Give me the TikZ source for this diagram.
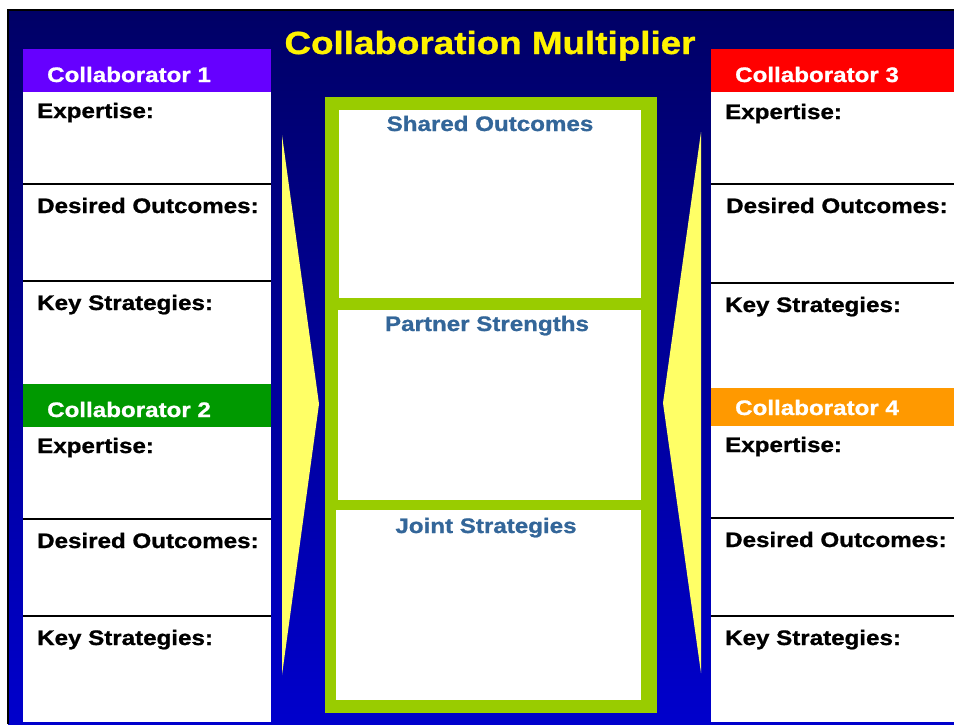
\documentclass[tikz,border=0pt]{standalone}
\usepackage{fontspec}
\setmainfont{Liberation Sans}[FakeStretch=1.15,BoldFeatures={FakeBold=1}]
\usepackage{tikz}
\usetikzlibrary{positioning}
\definecolor{navytop}{RGB}{0,0,102}
\definecolor{navybottom}{RGB}{0,0,204}
\definecolor{collabone}{RGB}{102,0,255}
\definecolor{collabtwo}{RGB}{0,153,0}
\definecolor{collabthree}{RGB}{255,0,0}
\definecolor{collabfour}{RGB}{255,153,0}
\definecolor{framegreen}{RGB}{153,204,0}
\definecolor{arrowyellow}{RGB}{255,255,102}
\definecolor{panelblue}{RGB}{51,102,153}
\tikzset{
	titletext/.style={anchor=base,inner sep=0pt,text=yellow,font=\fontsize{32}{32}\selectfont\bfseries},
	header/.style={anchor=base west,inner sep=0pt,text=white,font=\fontsize{21}{21}\selectfont\bfseries},
	field/.style={anchor=base west,inner sep=0pt,text=black,font=\fontsize{21}{21}\selectfont\bfseries},
	panel/.style={anchor=base,inner sep=0pt,text=panelblue,font=\fontsize{21}{21}\selectfont\bfseries},
	divider/.style={line width=2.5pt},
}

\begin{document}
\begin{tikzpicture}[x=1pt,y=-1pt]
				%Background
				\useasboundingbox (0,0) rectangle (954,724);
				\shade[top color=navytop,bottom color=navybottom] (8,10) rectangle (954,724);
				\draw[line width=2.5pt] (8,724) -- (8,10) -- (954,10);

				%Columns
				\fill[white] (23,49) rectangle (271,722);
				\fill[white] (711,49) rectangle (954,722);
				\fill[collabone] (23,49) rectangle (271,92);
				\fill[collabtwo] (23,384) rectangle (271,427);
				\fill[collabthree] (711,49) rectangle (954,92);
				\fill[collabfour] (711,388) rectangle (954,426);

				%Lines
				\draw[divider] (23,184) -- (271,184);
				\draw[divider] (23,281) -- (271,281);
				\draw[divider] (23,519) -- (271,519);
				\draw[divider] (23,616) -- (271,616);
				\draw[divider] (711,184) -- (954,184);
				\draw[divider] (711,283) -- (954,283);
				\draw[divider] (711,518) -- (954,518);
				\draw[divider] (711,616) -- (954,616);

				%Centre
				\fill[framegreen] (325,97) rectangle (657,713);
				\fill[white] (339,110) rectangle (641,298);
				\fill[white] (338,310) rectangle (641,500);
				\fill[white] (336,510) rectangle (641,700);

				%Arrows
				\coordinate      (l0) 	at 	(282,135);
				\coordinate      (l1) 	at 	(319,404);
				\coordinate      (l2) 	at 	(282,675);
				\coordinate      (r0) 	at 	(701,132);
				\coordinate      (r1) 	at 	(663,403);
				\coordinate      (r2) 	at 	(701,673);
				\fill[arrowyellow] (l0) -- (l1) -- (l2) -- cycle;
				\fill[arrowyellow] (r0) -- (r1) -- (r2) -- cycle;

				%Nodes
				\node[titletext] (title) at (490,54) {Collaboration Multiplier};

				\node[header] (c1) at (47,82) {Collaborator 1};
				\node[field] (c1exp) at (37,118) {Expertise:};
				\node[field] (c1out) at (37,213) {Desired Outcomes:};
				\node[field] (c1key) at (37,310) {Key Strategies:};

				\node[header] (c2) at (47,417) {Collaborator 2};
				\node[field] (c2exp) at (37,453) {Expertise:};
				\node[field] (c2out) at (37,548) {Desired Outcomes:};
				\node[field] (c2key) at (37,645) {Key Strategies:};

				\node[header] (c3) at (735,82) {Collaborator 3};
				\node[field] (c3exp) at (725,119) {Expertise:};
				\node[field] (c3out) at (726,213) {Desired Outcomes:};
				\node[field] (c3key) at (725,312) {Key Strategies:};

				\node[header] (c4) at (735,415) {Collaborator 4};
				\node[field] (c4exp) at (725,452) {Expertise:};
				\node[field] (c4out) at (725,547) {Desired Outcomes:};
				\node[field] (c4key) at (725,645) {Key Strategies:};

				\node[panel] (shared) at (490,131) {Shared Outcomes};
				\node[panel] (partner) at (487,331) {Partner Strengths};
				\node[panel] (joint) at (486,533) {Joint Strategies};

		\end{tikzpicture}
\end{document}
